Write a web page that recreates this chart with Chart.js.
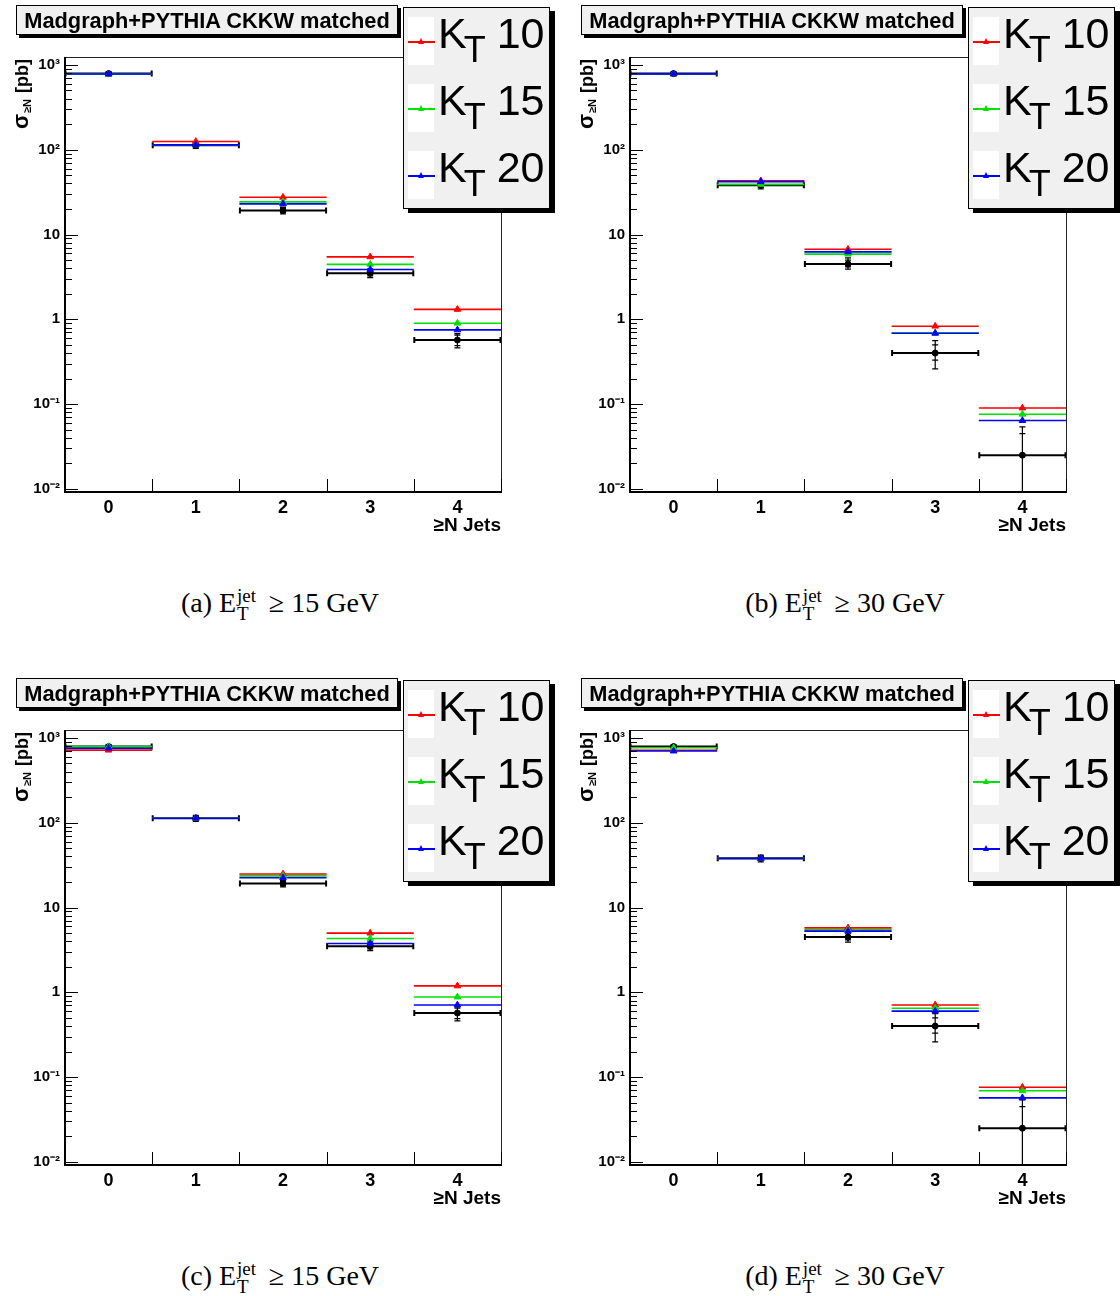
<!DOCTYPE html>
<html>
<head>
<meta charset="utf-8">
<script src="https://cdn.jsdelivr.net/npm/chart.js@4.4.0/dist/chart.umd.min.js"></script>
<style>
body{margin:0;background:#fff;width:1120px;height:1296px;position:relative;overflow:hidden;font-family:"Liberation Sans",Arial,sans-serif;color:#000}
.panel{position:absolute;width:560px;height:540px}
.panel canvas{position:absolute;left:0;top:0}
.ptitle{position:absolute;left:16px;top:5px;width:380px;height:28px;border:1px solid #000;background:#f0f0f0;box-shadow:3px 3px 0 #000;font-weight:bold;font-size:21.8px;line-height:29px;text-align:center;white-space:nowrap}
.legend{position:absolute;left:403px;top:7px;width:145px;height:200px;border:1px solid #000;background:#f0f0f0;box-shadow:5px 4px 0 #000}
.entry{position:absolute;left:4px;width:140px;height:48px}
.sw{position:absolute;left:0;top:0;width:26px;height:48px;background:#fff}
.ln{position:absolute;left:0;top:24px;width:27px;height:1.5px}
.tri{position:absolute;left:10px;top:21px;width:0;height:0;border-left:3.5px solid transparent;border-right:3.5px solid transparent;border-bottom:6px solid #000}
.lab{position:absolute;left:30px;top:-5px;font-size:43px;line-height:43px;white-space:nowrap}
.lab .t{font-size:36px;position:relative;top:14px;margin-left:-3px}
.lab .n{margin-left:11px}
.ytitle{position:absolute;left:21px;top:94px;transform:translate(-50%,-50%) rotate(-90deg);font-weight:bold;font-size:18px;white-space:nowrap}
.ytitle .s{font-size:22px}
.ytitle sub{font-size:11px;vertical-align:-3px;margin:0 1px}
.cap{position:absolute;width:560px;text-align:center;font-family:"Liberation Serif","Times New Roman",serif;font-size:28px;line-height:30px;white-space:nowrap}
.ss{display:inline-block;vertical-align:-0.42em;line-height:0.95;font-size:0.68em;text-align:left;margin:0 0.3em 0 0.05em}
.ss span{display:block}
</style>
</head>
<body>
<script>
// categories (N jets) and axis labels
const categories = [0, 1, 2, 3, 4];
const xTickLabels = ['0', '1', '2', '3', '4'];
const yTickValues = [0.01, 0.1, 1, 10, 100, 1000];
const yTickLabels = ['10\u207B\u00B2', '10\u207B\u00B9', '1', '10', '10\u00B2', '10\u00B3'];
const seriesNames = ['10', '15', '20'];
const seriesColors = ['#ff0000', '#00e000', '#0000ff'];

// E_T > 15 GeV data (panels a, c)
const data15 = [790, 113, 19.2, 3.5, 0.57];
const statLo15 = [765, 108, 18.2, 3.25, 0.49];
const statHi15 = [815, 118, 20.3, 3.8, 0.65];
const totLo15 = [745, 104, 17.5, 3.1, 0.46];
const totHi15 = [835, 122, 21.0, 3.95, 0.68];

// E_T > 30 GeV data (panels b, d)
const data30 = [790, 38, 4.5, 0.40, 0.025];
const statLo30 = [765, 36, 4.15, 0.33, 0.002];
const statHi30 = [815, 40, 5.0, 0.50, 0.045];
const totLo30 = [745, 34.5, 3.9, 0.26, 0.001];
const totHi30 = [835, 41.5, 5.3, 0.56, 0.054];

// panel a: Madgraph, E_T > 15
const kt10a = [780, 125, 27.5, 5.45, 1.31];
const kt15a = [778, 114, 24.3, 4.45, 0.90];
const kt20a = [782, 114, 23.0, 3.87, 0.75];
// panel b: E_T > 30
const kt10b = [785, 43, 6.7, 0.83, 0.090];
const kt15b = [785, 39, 5.87, 0.69, 0.076];
const kt20b = [785, 42, 6.25, 0.685, 0.064];
// panel c
const kt10c = [717, 113, 24.9, 4.99, 1.19];
const kt15c = [790, 113, 23.6, 4.32, 0.88];
const kt20c = [757, 113, 22.4, 3.77, 0.71];
// panel d
const kt10d = [715, 38, 5.75, 0.71, 0.076];
const kt15d = [765, 38, 5.45, 0.65, 0.069];
const kt20d = [700, 38, 5.27, 0.60, 0.057];

const family = '"Liberation Sans", Arial, sans-serif';

const panels = [
  {left: 0, top: 0, mc: [kt10a, kt15a, kt20a], data: data15, err: [statLo15, statHi15, totLo15, totHi15], cap: '(a)', cut: '15'},
  {left: 565, top: 0, mc: [kt10b, kt15b, kt20b], data: data30, err: [statLo30, statHi30, totLo30, totHi30], cap: '(b)', cut: '30'},
  {left: 0, top: 673, mc: [kt10c, kt15c, kt20c], data: data15, err: [statLo15, statHi15, totLo15, totHi15], cap: '(c)', cut: '15'},
  {left: 565, top: 673, mc: [kt10d, kt15d, kt20d], data: data30, err: [statLo30, statHi30, totLo30, totHi30], cap: '(d)', cut: '30'}
];

// bin lines + error bars, drawn under the markers
const binLines = {
  id: 'binLines',
  beforeDatasetsDraw(chart) {
    const {ctx, chartArea: a, scales: {x, y}} = chart;
    ctx.save();
    ctx.beginPath();
    ctx.rect(a.left, a.top - 2, a.right - a.left, a.bottom - a.top + 2);
    ctx.clip();
    const n = chart.data.datasets.length;
    for (let i = n - 1; i >= 0; i--) {
      const ds = chart.data.datasets[i];
      ctx.strokeStyle = ds.borderColor;
      ctx.lineWidth = ds.lineW;
      ds.data.forEach((p, k) => {
        const x0 = x.getPixelForValue(p.x - 0.5), x1 = x.getPixelForValue(p.x + 0.5);
        const py = y.getPixelForValue(p.y), px = x.getPixelForValue(p.x);
        ctx.beginPath();
        ctx.moveTo(x0, py); ctx.lineTo(x1, py);
        if (ds.caps) {
          ctx.moveTo(x0 + 0.5, py - 3); ctx.lineTo(x0 + 0.5, py + 3);
          ctx.moveTo(x1 - 0.5, py - 3); ctx.lineTo(x1 - 0.5, py + 3);
        }
        ctx.stroke();
        if (ds.err) {
          ctx.lineWidth = 1.2;
          ctx.beginPath();
          const [sl, sh, tl, th] = ds.err.map(e => y.getPixelForValue(e[k]));
          ctx.moveTo(px, tl); ctx.lineTo(px, th);
          [sl, sh, tl, th].forEach(v => { ctx.moveTo(px - 3, v); ctx.lineTo(px + 3, v); });
          ctx.stroke();
          ctx.lineWidth = ds.lineW;
        }
      });
    }
    ctx.restore();
  }
};

// ROOT style frame with inside ticks
const rootFrame = {
  id: 'rootFrame',
  afterDraw(chart) {
    const {ctx, chartArea: a, scales: {x, y}} = chart;
    ctx.save();
    ctx.strokeStyle = '#222';
    ctx.lineWidth = 1;
    ctx.beginPath();
    ctx.moveTo(a.left, a.top + 0.5); ctx.lineTo(a.right + 0.5, a.top + 0.5); ctx.lineTo(a.right + 0.5, a.bottom);
    ctx.stroke();
    ctx.strokeStyle = '#000';
    ctx.lineWidth = 2;
    ctx.beginPath();
    ctx.moveTo(a.left, a.top); ctx.lineTo(a.left, a.bottom); ctx.lineTo(a.right + 1, a.bottom);
    ctx.stroke();
    ctx.lineWidth = 1;
    ctx.beginPath();
    for (let d = -2; d <= 3; d++) {
      for (let m = 1; m <= 9; m++) {
        const v = m * Math.pow(10, d);
        if (v < y.min || v > y.max) continue;
        const py = Math.round(y.getPixelForValue(v)) + 0.5;
        ctx.moveTo(a.left, py); ctx.lineTo(a.left + (m === 1 ? 13 : 7), py);
      }
    }
    for (let e = 0.5; e <= 4.5; e += 1) {
      const px = Math.round(x.getPixelForValue(e)) + 0.5;
      ctx.moveTo(px, a.bottom); ctx.lineTo(px, a.bottom - 13);
    }
    ctx.stroke();
    ctx.restore();
  }
};

panels.forEach(p => {
  const div = document.createElement('div');
  div.className = 'panel';
  div.style.left = p.left + 'px';
  div.style.top = p.top + 'px';
  const canvas = document.createElement('canvas');
  canvas.width = 560; canvas.height = 540;
  div.appendChild(canvas);
  document.body.appendChild(div);

  const mcSets = p.mc.map((vals, i) => ({
    label: 'KT ' + seriesNames[i],
    data: categories.map((c, k) => ({x: c, y: vals[k]})),
    pointStyle: 'triangle', pointRadius: 3.8,
    backgroundColor: seriesColors[i], borderColor: seriesColors[i], borderWidth: 1,
    lineW: 1.6, showLine: false
  }));
  const dataSet = {
    label: 'data',
    data: categories.map((c, k) => ({x: c, y: p.data[k]})),
    pointStyle: 'circle', pointRadius: 3,
    backgroundColor: '#000', borderColor: '#000', borderWidth: 1,
    lineW: 2, caps: true, err: p.err, showLine: false
  };

  new Chart(canvas, {
    type: 'scatter',
    data: {datasets: [mcSets[2], mcSets[1], mcSets[0], dataSet]},
    options: {
      responsive: false, animation: false, devicePixelRatio: 1,
      layout: {padding: {left: 0, right: 59, top: 57, bottom: 0}},
      plugins: {legend: {display: false}, tooltip: {enabled: false}},
      scales: {
        x: {
          type: 'linear', min: -0.5, max: 4.5,
          afterBuildTicks: s => { s.ticks = categories.map(v => ({value: v})); },
          afterFit: s => { s.height = 48; },
          grid: {display: false, drawTicks: false, tickLength: 0}, border: {display: false},
          ticks: {callback: v => xTickLabels[categories.indexOf(v)], color: '#000', padding: 5,
                  font: {family, weight: 'bold', size: 18}, maxRotation: 0, autoSkip: false},
          title: {display: true, text: '\u2265N Jets', align: 'end', color: '#000',
                  font: {family, weight: 'bold', size: 19}, padding: {top: 0, bottom: 3}}
        },
        y: {
          type: 'logarithmic', min: 0.0092, max: 1240,
          afterBuildTicks: s => { s.ticks = yTickValues.map(v => ({value: v})); },
          afterFit: s => { s.width = 65; },
          grid: {display: false, drawTicks: false, tickLength: 0}, border: {display: false},
          ticks: {callback: v => yTickLabels[yTickValues.indexOf(v)], color: '#000', padding: 5,
                  font: {family, weight: 'bold', size: 15}, autoSkip: false}
        }
      }
    },
    plugins: [binLines, rootFrame]
  });

  const t = document.createElement('div');
  t.className = 'ptitle';
  t.textContent = 'Madgraph+PYTHIA CKKW matched';
  div.appendChild(t);

  const yt = document.createElement('div');
  yt.className = 'ytitle';
  yt.innerHTML = '<span class="s">\u03C3</span><sub>\u2265N</sub> [pb]';
  div.appendChild(yt);

  const lg = document.createElement('div');
  lg.className = 'legend';
  seriesNames.forEach((nm, i) => {
    const e = document.createElement('div');
    e.className = 'entry';
    e.style.top = (9 + i * 67) + 'px';
    e.innerHTML = '<div class="sw"></div><div class="ln" style="background:' + seriesColors[i] + '"></div>' +
      '<div class="tri" style="border-bottom-color:' + seriesColors[i] + '"></div>' +
      '<div class="lab">K<span class="t">T</span><span class="n">' + nm + '</span></div>';
    lg.appendChild(e);
  });
  div.appendChild(lg);

  const c = document.createElement('div');
  c.className = 'cap';
  c.style.left = p.left + 'px';
  c.style.top = (p.top + 587) + 'px';
  c.innerHTML = p.cap + ' E<span class="ss"><span>jet</span><span>T</span></span> \u2265 ' + p.cut + ' GeV';
  document.body.appendChild(c);
});
</script>
</body>
</html>
